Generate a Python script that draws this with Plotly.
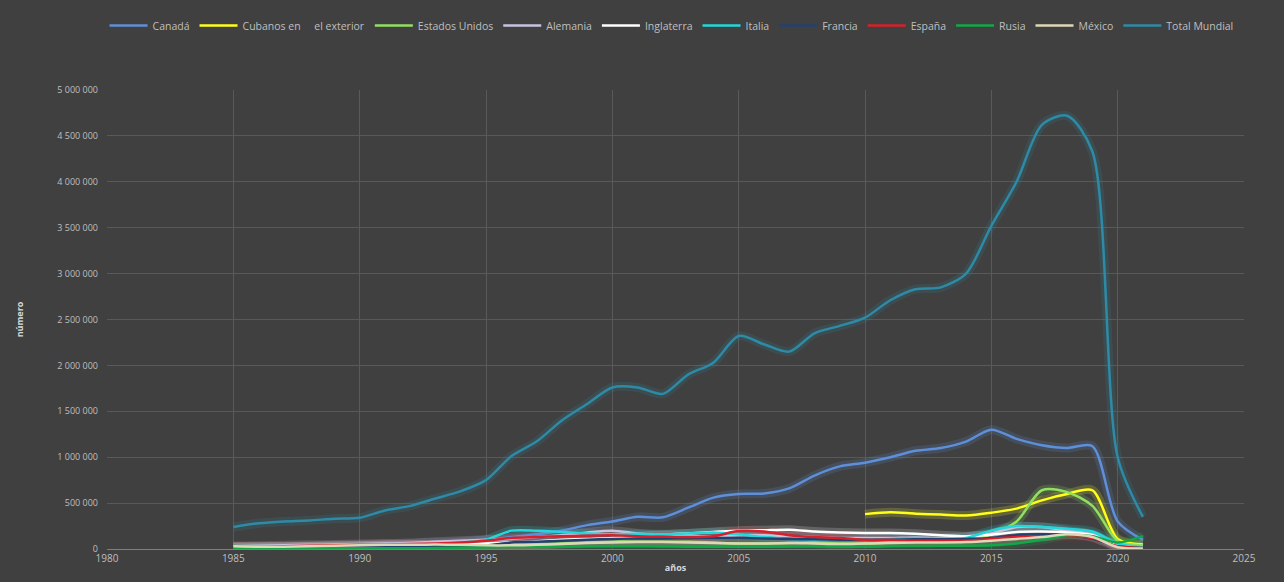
import plotly.graph_objects as go

years = list(range(1985, 2022))

canada = [20000, 25000, 30000, 35000, 40000, 45000, 55000, 60000, 70000, 80000,
          100000, 130000, 160000, 200000, 260000, 300000, 350000, 345000, 450000, 560000,
          600000, 605000, 660000, 800000, 900000, 940000, 1000000, 1070000, 1100000, 1170000,
          1300000, 1200000, 1130000, 1100000, 1120000, 300000, 100000]
cubanos = [None] * 25 + [380000, 400000, 385000, 375000, 365000, 395000, 440000,
                         530000, 600000, 640000, 110000, 50000]
eeuu = [10000, 12000, 15000, 18000, 20000, 25000, 30000, 30000, 35000, 40000,
        40000, 45000, 50000, 60000, 70000, 80000, 80000, 78000, 80000, 70000,
        60000, 60000, 65000, 70000, 60000, 60000, 70000, 80000, 90000, 100000,
        160000, 300000, 640000, 620000, 470000, 90000, 40000]
alemania = [30000, 35000, 40000, 45000, 50000, 55000, 60000, 65000, 80000, 90000,
            100000, 110000, 130000, 150000, 180000, 200000, 170000, 150000, 140000, 140000,
            150000, 150000, 140000, 130000, 120000, 120000, 120000, 125000, 120000, 130000,
            170000, 240000, 240000, 200000, 160000, 30000, 10000]
inglaterra = [20000, 22000, 25000, 28000, 32000, 35000, 40000, 45000, 50000, 55000,
              60000, 70000, 85000, 100000, 110000, 120000, 140000, 155000, 170000, 185000,
              200000, 205000, 210000, 190000, 180000, 175000, 175000, 165000, 150000, 140000,
              155000, 185000, 190000, 180000, 150000, 40000, 10000]
italia = [15000, 18000, 20000, 22000, 25000, 30000, 35000, 40000, 50000, 70000,
          100000, 200000, 200000, 185000, 170000, 160000, 165000, 160000, 170000, 180000,
          160000, 130000, 110000, 100000, 100000, 100000, 110000, 120000, 115000, 120000,
          200000, 250000, 240000, 220000, 190000, 60000, 20000]
francia = [10000, 12000, 14000, 15000, 18000, 20000, 22000, 25000, 30000, 35000,
           40000, 70000, 80000, 90000, 100000, 110000, 115000, 115000, 118000, 120000,
           120000, 115000, 110000, 105000, 100000, 100000, 100000, 105000, 105000, 110000,
           120000, 150000, 160000, 150000, 110000, 30000, 10000]
espana = [25000, 25000, 30000, 35000, 40000, 45000, 50000, 55000, 60000, 70000,
          90000, 120000, 130000, 140000, 145000, 150000, 140000, 135000, 130000, 140000,
          195000, 190000, 150000, 130000, 120000, 100000, 100000, 90000, 90000, 90000,
          110000, 130000, 140000, 140000, 120000, 30000, 10000]
rusia = [5000, 5000, 6000, 6000, 7000, 8000, 8000, 9000, 10000, 15000,
         20000, 25000, 25000, 28000, 30000, 30000, 30000, 28000, 25000, 25000,
         25000, 25000, 28000, 30000, 30000, 30000, 32000, 32000, 35000, 35000,
         40000, 60000, 100000, 150000, 140000, 70000, 140000]
mexico = [30000, 25000, 25000, 30000, 35000, 40000, 45000, 45000, 50000, 45000,
          40000, 40000, 45000, 55000, 65000, 70000, 75000, 75000, 70000, 65000,
          60000, 60000, 65000, 60000, 55000, 60000, 65000, 70000, 70000, 75000,
          90000, 110000, 130000, 160000, 130000, 20000, 5000]
total = [240000, 280000, 300000, 310000, 330000, 340000, 420000, 470000, 550000, 630000,
         750000, 1010000, 1170000, 1400000, 1580000, 1760000, 1760000, 1690000, 1900000, 2030000,
         2320000, 2230000, 2150000, 2350000, 2430000, 2520000, 2710000, 2830000, 2850000, 3000000,
         3520000, 4000000, 4620000, 4720000, 4330000, 1000000, 350000]

series = [
    ("Canadá", canada, "#5F8FD8"),
    ("Cubanos en\u00a0\u00a0\u00a0\u00a0 el exterior", cubanos, "#FFFF1A"),
    ("Estados Unidos", eeuu, "#92E060"),
    ("Alemania", alemania, "#C9C3E0"),
    ("Inglaterra", inglaterra, "#FFFFFF"),
    ("Italia", italia, "#22D8DA"),
    ("Francia", francia, "#24406E"),
    ("España", espana, "#D8202A"),
    ("Rusia", rusia, "#10A848"),
    ("México", mexico, "#DCD8B8"),
    ("Total Mundial", total, "#2F8AA6"),
]

fig = go.Figure()
# glow layers
for name, vals, col in series:
    fig.add_trace(go.Scatter(x=years, y=vals, mode="lines", line=dict(color=col, width=9, shape="spline", smoothing=0.8),
                             opacity=0.18, showlegend=False, hoverinfo="skip", connectgaps=False))
for name, vals, col in series:
    fig.add_trace(go.Scatter(x=years, y=vals, name=name, mode="lines",
                             line=dict(color=col, width=2.5, shape="spline", smoothing=0.8)))

fig.update_layout(
    width=1284, height=582,
    paper_bgcolor="#404040", plot_bgcolor="#404040",
    margin=dict(l=107, r=40, t=90, b=33),
    separators=", ",
    font=dict(family="Open Sans, Liberation Sans, sans-serif", color="#BFBFBF", size=10),
    legend=dict(orientation="h", xref="container", x=0.523, xanchor="center",
                y=1 - 11 / 582, yref="container", yanchor="top",
                font=dict(size=10.5, color="#BFBFBF"), bgcolor="rgba(0,0,0,0)",
                itemwidth=38, tracegroupgap=0),
    showlegend=True,
)
fig.update_xaxes(range=[1980, 2025], dtick=5, tick0=1980, showgrid=True, gridcolor="#595959", gridwidth=1,
                 zeroline=False, showline=True, linecolor="#7F7F7F", ticks="", automargin=False,
                 tickfont=dict(size=10, color="#BFBFBF"),
                 title=dict(text="<b>años</b>", font=dict(size=9, color="#D9D9D9"), standoff=0))
fig.update_yaxes(range=[0, 5000000], dtick=500000, showgrid=True, gridcolor="#595959", gridwidth=1,
                 zeroline=False, showline=False, ticks="", tickformat=",d", automargin=False,
                 ticklabelstandoff=8, tickfont=dict(size=9, color="#BFBFBF"),
                 title=dict(text="<b>número</b>", font=dict(size=9, color="#D9D9D9"), standoff=32))

fig.write_html("out.html", config={"displayModeBar": False},
               post_script="document.body.style.margin='0';")
